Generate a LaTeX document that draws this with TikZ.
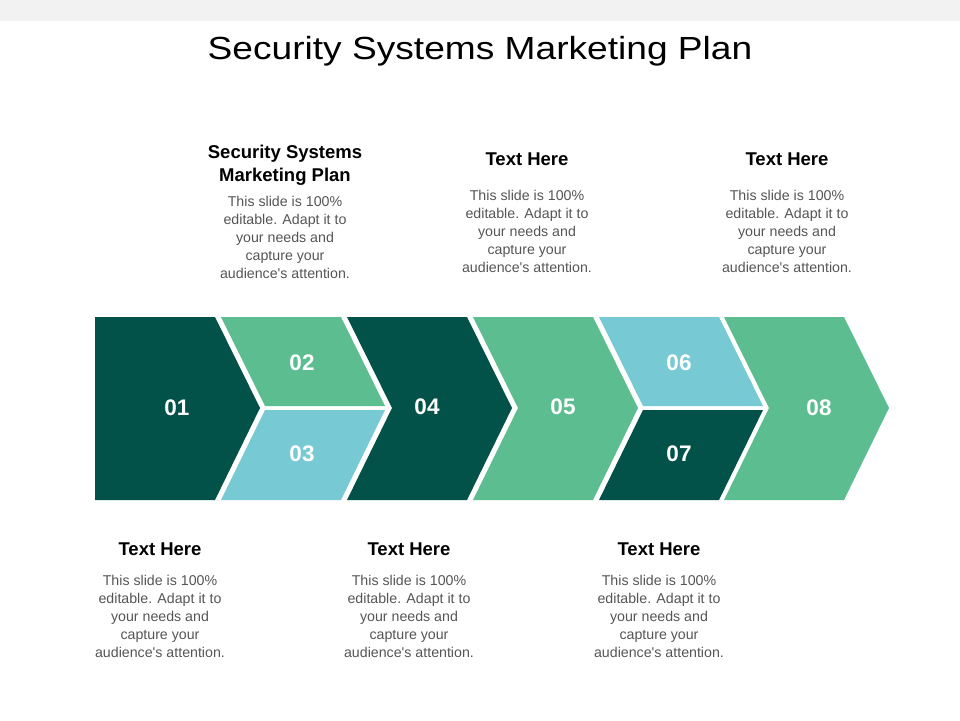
\documentclass[tikz,border=0pt]{standalone}
\usepackage{fontspec}
\setmainfont{Liberation Sans}
\definecolor{darkteal}{HTML}{03524A}
\definecolor{midgreen}{HTML}{5BBD90}
\definecolor{lightblue}{HTML}{77C9D4}
\definecolor{bodygray}{HTML}{555555}
\definecolor{bargray}{HTML}{F2F2F2}
\begin{document}
\begin{tikzpicture}[x=1pt, y=-1pt, line join=round,
  num/.style={font=\fontsize{22.5}{22.5}\selectfont\bfseries, text=white},
  head/.style={font=\fontsize{18.5}{23}\selectfont\bfseries, align=center},
  body/.style={font=\fontsize{14.2}{18}\selectfont, text=bodygray, align=center}]
\def\ya{317} \def\yb{500} \def\yc{408}
\def\w{120} \def\d{45} \def\e{44}
\def\msg{This slide is 100\%\\editable. Adapt it to\\your needs and\\capture your\\audience\textquotesingle s attention.}
\useasboundingbox (0,0) rectangle (960,720);
\fill[bargray] (0,0) rectangle (960,21);
\node[font=\fontsize{32}{32}\selectfont, xscale=1.16, transform shape] (title) at (480,51) {Security Systems Marketing Plan};
% full chevrons
\fill[darkteal] (95,\ya)--(95+\w,\ya)--(95+\w+\d,\yc)--(95+\w,\yb)--(95,\yb)--cycle;
\foreach \x/\c in {347/darkteal, 473/midgreen, 724/midgreen}
  \fill[\c] (\x,\ya)--(\x+\w,\ya)--(\x+\w+\d,\yc)--(\x+\w,\yb)--(\x,\yb)--(\x+\d,\yc)--cycle;
% split chevrons
\foreach \x/\cu/\cl in {221/midgreen/lightblue, 599/lightblue/darkteal}{
  \fill[\cu] (\x,\ya)--(\x+\w,\ya)--(\x+\w+\e,\yc-2)--(\x+\e,\yc-2)--cycle;
  \fill[\cl] (\x+\e,\yc+2)--(\x+\w+\e,\yc+2)--(\x+\w,\yb)--(\x,\yb)--cycle;
}
\node[num] (n01) at (177,408) {01};
\node[num] (n02) at (302,363) {02};
\node[num] (n03) at (302,454) {03};
\node[num] (n04) at (427,407) {04};
\node[num] (n05) at (563,407) {05};
\node[num] (n06) at (679,363) {06};
\node[num] (n07) at (679,454) {07};
\node[num] (n08) at (819,408) {08};
% texts above
\node[head] (h1) at (285,165) {Security Systems\\Marketing Plan};
\node[body] (b1) at (285,237) {\msg};
\node[head] (h2) at (527,159) {Text Here};
\node[body] (b2) at (527,231) {\msg};
\node[head] (h3) at (787,159) {Text Here};
\node[body] (b3) at (787,231) {\msg};
% texts below
\node[head] (h4) at (160,549) {Text Here};
\node[body] (b4) at (160,616) {\msg};
\node[head] (h5) at (409,549) {Text Here};
\node[body] (b5) at (409,616) {\msg};
\node[head] (h6) at (659,549) {Text Here};
\node[body] (b6) at (659,616) {\msg};
\end{tikzpicture}
\end{document}
